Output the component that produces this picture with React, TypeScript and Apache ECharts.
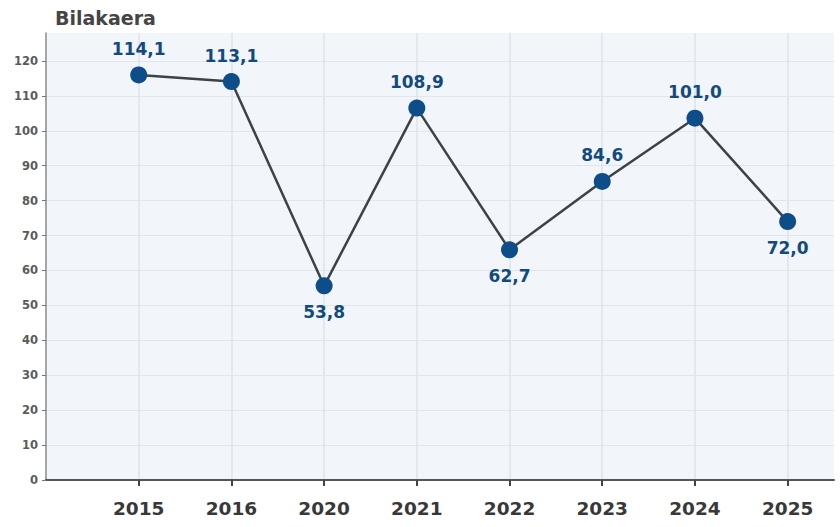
import React, { useEffect, useRef } from "react";
import * as echarts from "echarts";

const categories = ["2015", "2016", "2020", "2021", "2022", "2023", "2024", "2025"];
const plotValues = [116.0, 114.1, 55.6, 106.5, 65.9, 85.5, 103.6, 74.0];
const valueLabels = ["114,1", "113,1", "53,8", "108,9", "62,7", "84,6", "101,0", "72,0"];
const labelBelow = [false, false, true, false, true, false, false, true];
const yTicks = [0, 10, 20, 30, 40, 50, 60, 70, 80, 90, 100, 110, 120];

const FONT = "'DejaVu Sans', 'Noto Sans', sans-serif";

export default function App() {
  const ref = useRef<HTMLDivElement>(null);
  useEffect(() => {
    if (!ref.current) return;
    const chart = echarts.init(ref.current, undefined, { renderer: "svg" });
    const data = categories.map((c, i) => ({
      value: [i, plotValues[i]],
      label: {
        position: labelBelow[i] ? "bottom" : "top",
        formatter: valueLabels[i],
      },
    }));
    chart.setOption({
      animation: false,
      backgroundColor: "#ffffff",
      title: {
        text: "Bilakaera",
        left: 50,
        top: 3,
        textStyle: { fontFamily: FONT, fontSize: 19, fontWeight: "bold", color: "#454545" },
      },
      grid: {
        left: 46,
        right: 6,
        top: 33,
        bottom: 47,
        show: true,
        backgroundColor: "#f2f5f9",
        borderWidth: 0,
      },
      xAxis: {
        type: "value",
        min: -1,
        max: 7.5,
        interval: 1,
        axisLine: { show: true, onZero: false, lineStyle: { color: "#555555", width: 2 } },
        axisTick: {
          show: true,
          length: 6,
          customValues: categories.map((c, i) => i),
          lineStyle: { color: "#444444", width: 2 },
        },
        axisLabel: {
          customValues: categories.map((c, i) => i),
          formatter: (v: number) => categories[Math.round(v)] ?? "",
          fontFamily: FONT,
          fontSize: 18.5,
          fontWeight: "bold",
          color: "#383838",
          margin: 19,
        },
        splitLine: { show: true, lineStyle: { color: "#dde3ea", width: 1.5 } },
      },
      yAxis: {
        type: "value",
        min: 0,
        max: 128,
        interval: 10,
        axisLine: { show: true, onZero: false, lineStyle: { color: "#8a8a8a", width: 1.5 } },
        axisTick: { show: true, length: 4, customValues: yTicks, lineStyle: { color: "#777777" } },
        axisLabel: {
          customValues: yTicks,
          fontFamily: FONT,
          fontSize: 11.5,
          fontWeight: "bold",
          color: "#5a5a5a",
          margin: 8,
        },
        splitLine: { show: true, lineStyle: { color: "#e1e6ec", width: 1 } },
      },
      series: [
        {
          type: "line",
          data,
          symbol: "circle",
          symbolSize: 17,
          itemStyle: { color: "#0c4d8a" },
          lineStyle: { color: "#3d4247", width: 2.5 },
          label: {
            show: true,
            distance: 9,
            fontFamily: FONT,
            fontSize: 17,
            fontWeight: "bold",
            color: "#124a80",
          },
          z: 3,
        },
      ],
    });
    return () => chart.dispose();
  }, []);
  return (
    <div
      ref={ref}
      style={{ position: "fixed", left: 0, top: 0, width: 840, height: 527 }}
    />
  );
}
